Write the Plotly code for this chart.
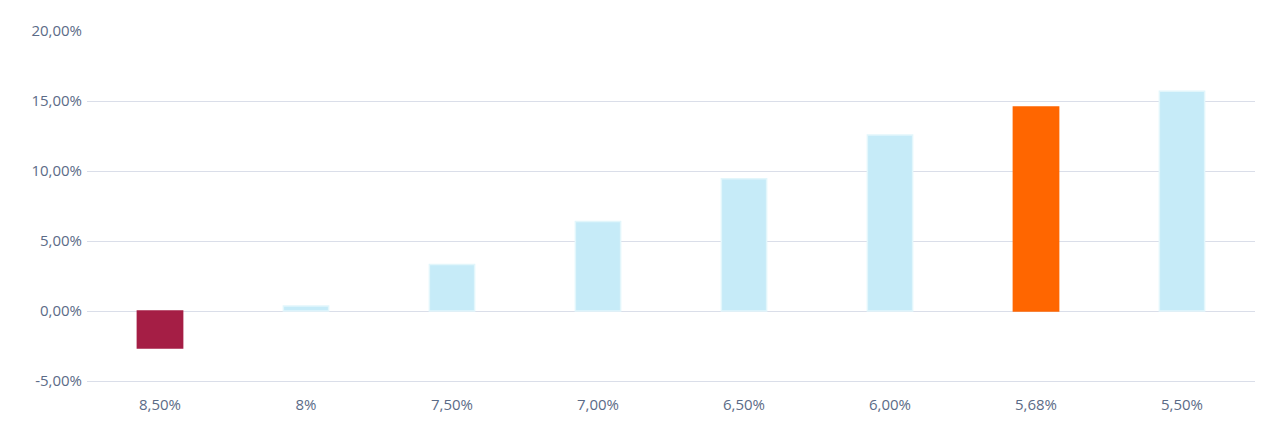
import plotly.graph_objects as go

categories = ["8,50%", "8%", "7,50%", "7,00%", "6,50%", "6,00%", "5,68%", "5,50%"]
values = [-2.65, 0.35, 3.33, 6.39, 9.44, 12.57, 14.58, 15.69]
colors = ["#A51E45", "#C6EBF8", "#C6EBF8", "#C6EBF8", "#C6EBF8", "#C6EBF8", "#FF6600", "#C6EBF8"]
lines = ["#A51E45", "#E2F6FB", "#E2F6FB", "#E2F6FB", "#E2F6FB", "#E2F6FB", "#FF6600", "#E2F6FB"]
tickvals = [-5, 0, 5, 10, 15, 20]
ticktext = ["-5,00%", "0,00%", "5,00%", "10,00%", "15,00%", "20,00%"]

fig = go.Figure(go.Bar(x=categories, y=values, marker=dict(color=colors, line=dict(color=lines, width=1.5))))
fig.update_layout(
    width=1278, height=430, plot_bgcolor="white", paper_bgcolor="white",
    margin=dict(l=79, r=31, t=13, b=57), bargap=0.69, showlegend=False,
    font=dict(family="Open Sans", size=15, color="#5B6B87"),
)
fig.update_yaxes(range=[-5, 20], tickvals=tickvals, ticktext=ticktext, gridcolor="#DADEE9",
                 zeroline=False, showline=False, ticks="", ticklen=0, ticklabelstandoff=4)
fig.update_xaxes(showline=True, linecolor="#DADEE9", linewidth=1, ticks="", ticklabelstandoff=10)
fig.write_html("out.html")
